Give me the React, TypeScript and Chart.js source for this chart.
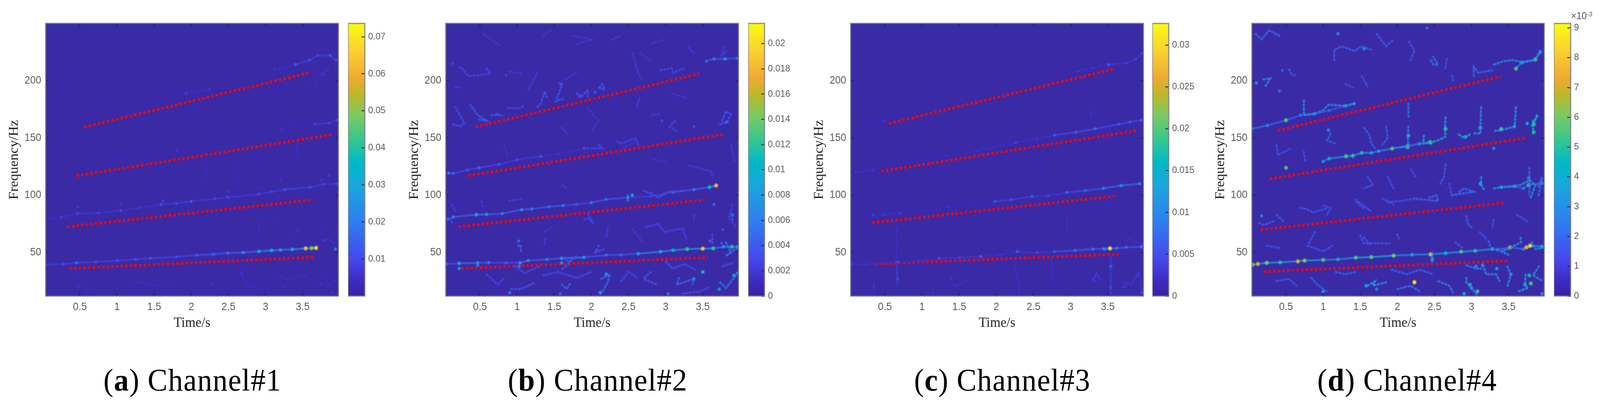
import React, { useEffect, useRef } from "react";
import { Chart, registerables } from "chart.js";

Chart.register(...registerables);

/* ---------- axis values ---------- */
const timeRange = [0.04, 3.98];
const freqRange = [12, 250];
const timeTicks = [0.5, 1, 1.5, 2, 2.5, 3, 3.5];
const freqTicks = [50, 100, 150, 200];

const barRangeA = [0, 0.0736];
const barRangeB = [0, 0.0216];
const barRangeC = [0, 0.0326];
const barRangeD = [0, 9.15];
const barTicksA = [0.01, 0.02, 0.03, 0.04, 0.05, 0.06, 0.07];
const barTicksB = [0, 0.002, 0.004, 0.006, 0.008, 0.01, 0.012, 0.014, 0.016, 0.018, 0.02];
const barTicksC = [0, 0.005, 0.01, 0.015, 0.02, 0.025, 0.03];
const barTicksD = [0, 1, 2, 3, 4, 5, 6, 7, 8, 9];

/* ---------- red dotted guide lines [t0, f0, t1, f1] ---------- */
const guidesA = [[0.56, 159.5, 3.58, 206.8], [0.455, 117, 3.9, 153], [0.33, 72.5, 3.63, 96], [0.36, 36, 3.67, 46]];
const guidesB = [[0.44, 159.5, 3.45, 206], [0.34, 117, 3.79, 153.4], [0.21, 72.5, 3.52, 96], [0.25, 36, 3.57, 45.7]];
const guidesC = [[0.556, 162.6, 3.57, 210], [0.45, 121, 3.9, 156.5], [0.33, 76, 3.63, 99.5], [0.37, 40, 3.68, 48.6]];
const guidesD = [[0.39, 156.5, 3.39, 203.6], [0.28, 114.4, 3.73, 150], [0.16, 69.8, 3.46, 93.5], [0.2, 33.3, 3.5, 42.8]];

/* ---------- bright ridges, [t, f, value] ---------- */
const ridgesA = [
  [[0.04, 39.4, 0.011], [0.28, 40, 0.012], [0.455, 41, 0.017], [0.72, 41.8, 0.012], [1.0, 42.8, 0.012], [1.25, 44, 0.012], [1.45, 45, 0.014], [1.8, 46.2, 0.012], [2.07, 47.7, 0.016], [2.3, 48.4, 0.016], [2.49, 49.5, 0.02], [2.7, 50, 0.022], [2.91, 51, 0.032], [3.08, 51.8, 0.034], [3.2, 52.2, 0.028], [3.36, 52.7, 0.034], [3.54, 53.6, 0.062], [3.62, 53.8, 0.05], [3.68, 54, 0.068]],
  [[0.04, 79, 0.007], [0.25, 81, 0.008], [0.47, 84, 0.011], [0.75, 84.5, 0.009], [1.05, 86.7, 0.011], [1.3, 89, 0.008], [1.59, 92, 0.012], [1.8, 93, 0.01], [2.0, 94.6, 0.015], [2.32, 97, 0.01], [2.5, 98, 0.01], [2.91, 101, 0.011], [3.08, 103, 0.01], [3.26, 105, 0.012], [3.6, 107, 0.012], [3.78, 109.5, 0.01], [3.96, 110, 0.01]],
  [[0.47, 124, 0.004], [0.8, 128, 0.003], [1.13, 133, 0.005], [1.5, 136, 0.003], [1.8, 139, 0.007], [2.32, 145, 0.004], [2.8, 151, 0.003]],
  [[3.22, 158, 0.006], [3.4, 161, 0.005], [3.66, 162, 0.01], [3.85, 163, 0.01], [3.96, 165.5, 0.012]],
  [[1.3, 180, 0.003], [1.93, 189, 0.008], [2.25, 192.6, 0.007], [2.5, 194, 0.004]],
  [[2.9, 203, 0.004], [3.12, 209.5, 0.007], [3.4, 214, 0.015], [3.59, 218, 0.012], [3.7, 222, 0.01], [3.87, 222, 0.016], [3.95, 218, 0.012]],
];
const ridgesB = [
  [[0.05, 40, 0.0048], [0.22, 40.5, 0.009], [0.47, 41, 0.0075], [0.62, 41.2, 0.006], [0.85, 41, 0.004], [1.04, 41, 0.0085], [1.15, 43, 0.007], [1.4, 44, 0.006], [1.6, 45, 0.0085], [1.9, 45.7, 0.0085], [2.2, 47.7, 0.005], [2.4, 48, 0.005], [2.63, 49, 0.0085], [2.93, 50.7, 0.009], [3.1, 52, 0.01], [3.29, 53, 0.012], [3.5, 53.4, 0.019], [3.64, 53.6, 0.012], [3.78, 55, 0.008], [3.89, 55, 0.012], [3.97, 55, 0.009]],
  [[0.07, 79, 0.005], [0.14, 81, 0.006], [0.45, 83, 0.009], [0.59, 83.3, 0.008], [0.8, 84, 0.006], [1.06, 87.4, 0.007], [1.2, 88, 0.006], [1.43, 90, 0.005], [1.62, 91, 0.006], [1.8, 92, 0.004], [2.0, 93.5, 0.006], [2.2, 96.4, 0.005], [2.49, 98, 0.006], [2.8, 99, 0.003], [3.1, 102.5, 0.005], [3.38, 105, 0.006], [3.59, 107, 0.011], [3.68, 108.5, 0.018]],
  [[0.08, 119.4, 0.006], [0.14, 119, 0.005], [0.33, 122, 0.004], [0.49, 124, 0.005], [0.76, 127, 0.004], [1.0, 131, 0.003], [1.32, 134, 0.004], [1.55, 136, 0.002], [1.9, 141, 0.003]],
  [[3.55, 217, 0.005], [3.65, 219, 0.006], [3.8, 219, 0.008], [3.96, 219.6, 0.005]],
];
const ridgesC = [
  [[0.04, 40, 0.006], [0.22, 39.6, 0.003], [0.67, 41.7, 0.006], [0.95, 42.5, 0.003], [1.23, 45, 0.005], [1.5, 45.5, 0.004], [1.79, 46.6, 0.007], [2.05, 48, 0.003], [2.28, 50.7, 0.007], [2.55, 49.8, 0.004], [2.78, 50.7, 0.007], [3.06, 51.8, 0.008], [3.3, 53, 0.008], [3.45, 53.2, 0.012], [3.53, 53.6, 0.031], [3.62, 53.7, 0.009], [3.75, 54.5, 0.008], [3.95, 55, 0.009]],
  [[0.11, 79, 0.002], [0.34, 83, 0.004], [0.5, 83, 0.003], [0.7, 84.5, 0.004], [1.05, 87, 0.002], [1.35, 90, 0.003], [1.7, 91.5, 0.002], [1.98, 94.6, 0.006], [2.2, 96, 0.005], [2.48, 99, 0.007], [2.7, 99.5, 0.004], [2.95, 102.5, 0.008], [3.2, 104, 0.007], [3.44, 106, 0.01], [3.68, 108.5, 0.011], [3.93, 110, 0.01]],
  [[0.11, 120, 0.003], [0.34, 122, 0.003], [0.79, 128, 0.002], [1.35, 134, 0.002], [1.73, 138.5, 0.003], [2.26, 146, 0.004], [2.55, 149, 0.003], [2.78, 152.5, 0.006], [3.07, 155, 0.007], [3.33, 158, 0.008], [3.65, 162, 0.006], [3.8, 164, 0.006], [3.95, 165.5, 0.007]],
  [[0.2, 161, 0.002], [0.48, 165, 0.003]],
  [[2.9, 203, 0.002], [3.09, 208, 0.003], [3.3, 211, 0.003], [3.51, 214, 0.007], [3.75, 215.5, 0.004], [3.88, 219, 0.004], [3.96, 224, 0.004]],
];
const ridgesD = [
  [[0.05, 39.4, 6], [0.12, 40, 7], [0.24, 41, 6], [0.42, 41.4, 5], [0.66, 42.3, 7], [0.75, 43, 6], [1.0, 43.5, 5.5], [1.2, 44, 4], [1.44, 45.5, 5.5], [1.65, 46, 5.5], [1.95, 47.3, 6], [2.2, 48, 4], [2.45, 48.4, 7.8], [2.65, 49.4, 4.5], [2.86, 50.7, 5.5], [3.05, 51.5, 5], [3.28, 53, 4.5], [3.35, 52.5, 3], [3.52, 54.5, 6.5], [3.7, 53, 3], [3.74, 54.5, 7.5], [3.79, 55.9, 8.5], [3.95, 55.2, 4.5]],
  [[3.4, 107, 4], [3.58, 107.7, 3.4], [3.7, 106, 2.5], [3.77, 109, 5.5], [3.95, 110.4, 3.2]],
  [[1.0, 129.5, 3], [1.08, 132, 4.5], [1.31, 134, 5.5], [1.4, 134.5, 5], [1.52, 137, 4.8], [1.65, 137, 4], [1.75, 138.5, 3.5], [1.93, 140.8, 5.5], [2.14, 143, 5], [2.3, 145, 3.2], [2.44, 146.4, 5]],
  [[0.04, 158, 3], [0.25, 161, 2.8], [0.5, 165.5, 5.5], [0.7, 170, 2.5], [0.88, 171, 3.2], [1.08, 174, 2], [1.3, 178, 3.6], [1.42, 180, 3]],
  [[3.6, 210.6, 5.5], [3.68, 216, 4], [3.86, 218.5, 5.5], [3.93, 225, 3.4]],
];

/* ---------- isolated bright specks, [t, f, value] ---------- */
const specksA = [
  [0.09, 238, 0.004], [0.35, 205, 0.004], [0.12, 160, 0.003], [0.85, 173, 0.004], [1.41, 181, 0.004], [1.3, 223, 0.002], [1.99, 237.6, 0.003],
  [2.84, 241, 0.003], [3.6, 241, 0.002], [2.2, 119, 0.006], [2.22, 125, 0.004], [2.63, 126, 0.004], [3.43, 139.6, 0.006], [3.43, 134, 0.004],
  [0.47, 20, 0.006], [0.26, 27, 0.004], [1.69, 23.6, 0.006], [1.27, 22.5, 0.004], [2.68, 31.5, 0.008], [2.77, 20, 0.006], [3.43, 70, 0.006],
  [3.17, 77.7, 0.005], [2.9, 74, 0.005], [3.78, 60.8, 0.008], [3.94, 53, 0.022], [3.75, 22.5, 0.006], [3.26, 20, 0.006], [2.28, 22.5, 0.006],
  [0.89, 68.7, 0.003], [2.48, 99, 0.01], [3.05, 26, 0.005], [3.53, 30, 0.005], [1.0, 16, 0.004], [1.9, 16, 0.004], [2.55, 14, 0.004], [3.9, 15, 0.006],
  [3.8, 30, 0.004], [3.4, 62, 0.005], [2.78, 216, 0.003], [3.1, 196, 0.003], [3.68, 196, 0.005], [3.78, 205, 0.006], [3.3, 205, 0.005], [2.58, 110, 0.004],
  [1.62, 95, 0.01], [0.47, 90, 0.008], [1.05, 92, 0.008], [2.5, 103, 0.007], [2.9, 107, 0.006], [3.2, 113, 0.006], [3.85, 117, 0.008], [3.75, 113, 0.007],
];
const specksB = [
  [0.13, 215, 0.003], [0.85, 205, 0.003], [1.6, 197, 0.004], [2.05, 190, 0.004], [1.85, 187, 0.004], [2.95, 165, 0.003], [3.38, 160, 0.004], [3.82, 164, 0.006], [2.55, 100, 0.009], [3.65, 92, 0.005],
  [3.9, 83, 0.006], [3.77, 70, 0.004], [1.02, 60, 0.005], [1.02, 56, 0.004], [0.22, 36, 0.008], [0.47, 39, 0.006], [1.03, 38, 0.006], [1.6, 41, 0.008], [0.9, 15, 0.006], [1.58, 14, 0.005],
  [2.2, 31, 0.008], [2.12, 15, 0.009], [3.03, 14, 0.006], [3.38, 27, 0.008], [3.5, 33, 0.011], [3.72, 18, 0.008], [3.92, 30, 0.01], [3.97, 32, 0.007], [3.6, 60, 0.005], [3.75, 58, 0.004],
];
const specksC = [
  [2.0, 237, 0.001], [1.35, 222, 0.001], [3.56, 242, 0.001], [3.27, 172, 0.003], [2.45, 150, 0.002], [2.95, 78, 0.003], [2.95, 72, 0.002], [3.54, 92, 0.002], [0.66, 68, 0.002], [0.66, 50, 0.002],
  [0.67, 27, 0.005], [0.66, 33, 0.003], [0.35, 20, 0.003], [1.4, 27, 0.003], [1.15, 14, 0.003], [2.3, 22, 0.003], [3.0, 14, 0.003], [3.32, 25, 0.003], [3.54, 38, 0.011], [3.54, 20, 0.005],
  [3.72, 20, 0.004], [3.9, 30, 0.004], [3.96, 15, 0.006], [3.97, 56, 0.006],
];
const specksD = [
  [1.2, 241, 3], [1.55, 228, 3.4], [2.4, 246, 2.4], [0.45, 209, 1.8], [0.1, 198, 3.2], [0.41, 191, 2.4], [1.07, 157, 3.4], [2.15, 152, 4.8], [2.14, 142, 5.2], [2.65, 158, 5.2],
  [3.12, 159, 4.8], [3.58, 160, 3.8], [3.84, 155, 4.8], [2.45, 146, 5.2], [3.12, 110, 4.6], [3.77, 115, 3.4], [3.3, 141, 2.8], [0.5, 124, 5.5], [2.92, 151, 4], [3.4, 157.7, 5.5],
  [3.84, 162, 5.5], [3.75, 162.6, 4], [3.06, 38, 3.2], [3.34, 36, 3.6], [3.78, 30, 4.8], [3.8, 23, 5.5], [3.08, 16, 5.2], [2.98, 22, 4.6], [2.9, 14, 4], [2.23, 24, 8.8],
  [1.58, 21, 4], [1.0, 16, 3.6], [1.72, 18, 3.2], [3.0, 19, 3.4], [3.53, 31, 3.6], [3.72, 22, 4.2], [3.15, 39, 3], [2.47, 44, 4.2], [3.95, 14, 3], [0.17, 82, 2.6],
];

/* ---------- faint filaments, each a list of [t, f] with one value ---------- */
const websA: [number, number[][]][] = [
  [0.0035, [[0.35, 205], [0.38, 211]]],
  [0.003, [[1.93, 170], [2.1, 175], [2.2, 168]]],
  [0.003, [[3.1, 196], [3.2, 186], [3.25, 178]]],
  [0.0035, [[3.55, 198], [3.68, 196], [3.74, 190]]],
  [0.005, [[3.7, 208], [3.78, 205], [3.85, 212]]],
  [0.004, [[2.62, 126], [2.63, 118], [2.62, 108]]],
  [0.004, [[3.43, 146], [3.43, 132]]],
  [0.004, [[2.2, 125], [2.2, 112]]],
  [0.005, [[3.78, 60], [3.85, 62], [3.92, 58]]],
  [0.004, [[2.9, 78], [2.92, 66]]],
  [0.004, [[2.7, 38], [2.68, 30], [2.75, 22], [2.95, 18]]],
  [0.004, [[3.1, 32], [3.3, 26], [3.5, 30], [3.7, 22]]],
  [0.004, [[0.45, 28], [0.5, 20], [0.7, 16]]],
  [0.004, [[1.2, 25], [1.5, 22], [1.7, 18]]],
  [0.004, [[3.75, 30], [3.85, 22], [3.95, 26]]],
  [0.0035, [[2.3, 18], [2.5, 15]]],
  [0.0035, [[3.75, 65], [3.78, 72], [3.7, 80]]],
];
const websB: [number, number[][]][] = [
  [0.0024, [[2.93, 209], [3.08, 211], [3.1, 207], [3.26, 211]]],
  [0.002, [[2.55, 224], [2.63, 207], [2.68, 201]]],
  [0.003, [[1.8, 189], [1.85, 185], [1.95, 192], [1.95, 186]]],
  [0.003, [[2.1, 194], [2.15, 197], [2.18, 192], [2.1, 194]]],
  [0.003, [[1.27, 177], [1.32, 180], [1.37, 191], [1.4, 185]]],
  [0.003, [[1.57, 198], [1.6, 195], [1.52, 182], [1.62, 184]]],
  [0.002, [[1.15, 192], [1.25, 204], [1.27, 207]]],
  [0.0024, [[0.87, 176], [1.05, 176], [1.1, 179]]],
  [0.003, [[0.72, 171], [0.77, 170], [0.64, 170]]],
  [0.0035, [[0.49, 166], [0.59, 165], [0.47, 170], [0.37, 179]]],
  [0.003, [[0.14, 162], [0.24, 160], [0.29, 163], [0.17, 177]]],
  [0.0024, [[0.22, 211], [0.24, 212], [0.34, 204], [0.64, 206], [0.59, 211]]],
  [0.002, [[0.17, 195], [0.24, 194]]],
  [0.0018, [[1.75, 239], [2.02, 236], [1.8, 232]]],
  [0.0018, [[2.38, 239], [2.25, 235]]],
  [0.0024, [[3.13, 165], [3.05, 160], [3.15, 156]]],
  [0.003, [[3.76, 165], [3.81, 173], [3.88, 171], [3.83, 164], [3.73, 162]]],
  [0.002, [[3.78, 230], [3.76, 222], [3.82, 226]]],
  [0.0024, [[2.1, 144], [2.15, 141], [1.9, 141]]],
  [0.0024, [[2.35, 147], [2.4, 145], [2.6, 150], [2.63, 144]]],
  [0.002, [[1.6, 109], [1.67, 106]]],
  [0.003, [[2.7, 104], [2.83, 101], [2.9, 98], [3.03, 103], [3.23, 104]]],
  [0.0055, [[2.49, 100], [2.49, 94]]],
  [0.0024, [[1.9, 79], [1.97, 80], [2.03, 75], [1.95, 84]]],
  [0.002, [[2.22, 72], [2.2, 63]]],
  [0.0024, [[2.73, 72], [2.9, 75], [2.98, 68], [3.23, 71], [3.28, 62]]],
  [0.0026, [[3.63, 66], [3.63, 57]]],
  [0.004, [[1.05, 56], [1.05, 51]]],
  [0.002, [[1.37, 62], [1.37, 57]]],
  [0.003, [[2.1, 56], [2.05, 50], [2.18, 53]]],
  [0.004, [[1.6, 22], [1.67, 18], [1.72, 24]]],
  [0.0045, [[2.13, 27], [2.25, 31], [2.22, 24], [2.15, 16]]],
  [0.004, [[3.18, 28], [3.15, 22], [3.38, 27], [3.36, 22]]],
  [0.0032, [[2.8, 33], [2.7, 27], [2.88, 22]]],
  [0.005, [[3.73, 24], [3.81, 19], [3.91, 27], [3.96, 31]]],
  [0.0032, [[0.92, 18], [1.05, 18], [1.25, 24]]],
  [0.0024, [[0.59, 31], [0.74, 22], [0.82, 27]]],
  [0.0026, [[1.35, 30], [1.55, 33], [1.8, 28], [2, 33]]],
  [0.005, [[3.81, 59], [3.88, 50], [3.81, 47], [3.96, 54]]],
  [0.003, [[3.76, 38], [3.91, 41]]],
  [0.0032, [[1.62, 45], [1.7, 42], [1.8, 47], [1.6, 35]]],
  [0.0026, [[2.4, 25], [2.5, 33], [2.62, 28]]],
  [0.003, [[3.0, 42], [3.1, 36], [3.25, 40], [3.4, 35]]],
  [0.0026, [[0.97, 38], [1.1, 32], [1.3, 38]]],
  [0.0026, [[3.22, 14], [3.45, 16], [3.6, 20]]],
  [0.0022, [[3.9, 92], [3.85, 80], [3.95, 72]]],
  [0.0016, [[0.54, 241], [0.79, 230]]],
  [0.0016, [[1.35, 239], [1.47, 245]]],
  [0.0018, [[0.89, 208], [1.07, 206]]],
  [0.0018, [[1.65, 201], [1.8, 207]]],
  [0.0016, [[2.65, 224], [2.8, 218]]],
  [0.0016, [[2.8, 232], [2.98, 236]]],
  [0.002, [[3.31, 229], [3.38, 224]]],
  [0.0018, [[3.08, 189], [3.28, 185]]],
  [0.002, [[2.65, 185], [2.6, 176]]],
  [0.0016, [[1.95, 176], [2.1, 165], [2, 156]]],
  [0.0018, [[2.8, 170], [2.93, 171]]],
  [0.002, [[1.6, 159], [1.67, 154]]],
  [0.0016, [[0.82, 145], [0.87, 135]]],
  [0.002, [[3.31, 126], [3.61, 121], [3.63, 116]]],
  [0.0016, [[2.43, 141], [2.6, 147]]],
  [0.0016, [[2.8, 132], [3, 129]]],
  [0.0018, [[3.88, 144], [3.93, 130]]],
  [0.003, [[3.88, 83], [3.91, 77]]],
  [0.002, [[0.89, 95], [1.07, 97]]],
  [0.0018, [[3.38, 83], [3.38, 77]]],
  [0.0018, [[2.55, 71], [2.68, 60]]],
  [0.0018, [[1.37, 68], [1.47, 72]]],
  [0.002, [[0.52, 95], [0.54, 89]]],
  [0.002, [[0.12, 92], [0.17, 86]]],
  [0.0024, [[0.09, 80], [0.14, 75]]],
];
const websC: [number, number[][]][] = [
  [0.0016, [[3.27, 180], [3.27, 166]]],
  [0.0012, [[2.45, 158], [2.45, 138]]],
  [0.0012, [[2.62, 135], [2.62, 112]]],
  [0.0018, [[2.95, 82], [2.95, 66]]],
  [0.0014, [[3.54, 100], [3.54, 85]]],
  [0.002, [[0.66, 72], [0.66, 44]]],
  [0.003, [[0.66, 40], [0.67, 22]]],
  [0.002, [[1.4, 24], [1.45, 20], [1.6, 26]]],
  [0.002, [[2.25, 38], [2.3, 22], [2.3, 14]]],
  [0.002, [[2.75, 44], [2.75, 26]]],
  [0.003, [[3.54, 46], [3.54, 14]]],
  [0.003, [[3.3, 26], [3.35, 32], [3.4, 26]]],
  [0.0025, [[3.7, 24], [3.82, 22], [3.92, 34], [3.96, 16]]],
  [0.002, [[0.35, 26], [0.36, 14]]],
  [0.002, [[3.75, 64], [3.85, 60], [3.95, 58]]],
];
const websD: [number, number[][]][] = [
  [1.9, [[0.09, 241], [0.17, 236], [0.27, 244], [0.42, 239]]],
  [1.6, [[1.15, 218], [1.15, 227], [1.25, 230], [1.42, 226], [1.52, 230], [1.65, 227]]],
  [1.5, [[1.72, 241], [1.85, 230], [1.95, 236]]],
  [1.9, [[2.45, 218], [2.49, 214], [2.55, 214], [2.48, 221]]],
  [1.5, [[0.54, 210], [0.57, 206], [0.64, 204]]],
  [2.4, [[0.19, 201], [0.29, 202], [0.22, 195]]],
  [2.6, [[0.74, 183], [0.74, 170], [0.87, 171], [1, 174], [1.07, 179], [1.3, 178], [1.42, 180]]],
  [2.2, [[2.15, 180], [2.15, 168]]],
  [2.4, [[2.15, 160], [2.14, 151], [2.15, 142], [2.05, 142]]],
  [3.2, [[2.65, 168], [2.64, 157], [2.65, 151], [2.55, 148], [2.45, 146], [2.35, 145], [2.36, 154]]],
  [2.8, [[3.13, 177], [3.12, 159], [3.12, 154], [3.03, 154]]],
  [3.4, [[2.83, 153], [2.9, 150], [3, 154]]],
  [3, [[3.6, 177], [3.58, 160], [3.41, 157], [3.3, 156]]],
  [4, [[3.83, 165], [3.83, 154]]],
  [3.2, [[3.88, 170], [3.81, 160], [3.89, 169]]],
  [2.6, [[3.3, 214], [3.43, 217], [3.56, 218], [3.68, 216], [3.86, 218], [3.92, 226]]],
  [1.8, [[3.03, 204], [3.03, 212], [3.09, 207], [3.28, 209]]],
  [2.8, [[3.3, 106], [3.41, 107], [3.56, 108], [3.66, 109], [3.78, 113], [3.86, 109], [3.8, 98]]],
  [3, [[3.13, 116], [3.13, 109], [3.18, 104]]],
  [1.8, [[2.83, 103], [2.9, 106], [3.03, 103], [2.73, 100]]],
  [1.7, [[2.43, 98], [2.53, 100], [2.55, 95], [2.23, 97]]],
  [1.6, [[2.93, 82], [2.95, 75], [3, 72]]],
  [1.6, [[2.65, 127], [2.63, 116], [2.58, 110]]],
  [1.6, [[1.07, 157], [1.1, 153], [1.05, 148], [1.17, 145]]],
  [1.6, [[1.55, 159], [1.62, 153], [1.65, 145], [1.7, 141]]],
  [1.6, [[1.85, 160], [1.87, 150], [1.8, 144]]],
  [1.3, [[1.52, 92], [1.65, 86], [1.42, 97]]],
  [1.3, [[1.87, 94], [2.05, 95], [2.23, 97]]],
  [1.4, [[0.69, 89], [0.77, 88], [0.87, 85], [1.07, 89]]],
  [2.8, [[2.93, 28], [2.93, 24], [3, 19], [3.08, 13]]],
  [2.6, [[3.15, 39], [3.2, 31], [3.33, 31], [3.38, 25]]],
  [2.6, [[3.48, 38], [3.53, 31], [3.48, 19]]],
  [3, [[3.73, 31], [3.72, 22], [3.76, 19], [3.63, 16]]],
  [2.8, [[1.6, 21], [1.7, 25], [1.67, 21], [1.85, 24]]],
  [2, [[2, 18], [2.18, 21], [2.3, 16]]],
  [1.6, [[0.84, 28], [0.92, 22], [1.05, 16]]],
  [1.5, [[0.37, 25], [0.54, 27], [0.64, 21]]],
  [2.2, [[2.55, 25], [2.7, 21], [2.75, 15]]],
  [2.6, [[3.91, 38], [3.83, 30], [3.96, 25]]],
  [2.2, [[2.93, 39], [3.05, 36], [3.13, 36]]],
  [1.6, [[1.17, 33], [1.3, 31], [1.45, 33]]],
  [1.6, [[1.92, 35], [2.13, 31], [2.3, 35], [2.48, 31]]],
  [2.6, [[3.66, 63], [3.67, 59], [3.52, 54], [3.4, 51], [3.5, 48]]],
  [2.6, [[3.81, 59], [3.86, 53], [3.96, 54]]],
  [1.8, [[3.23, 60], [3.26, 54]]],
  [2.6, [[2.47, 50], [2.47, 42]]],
  [1.5, [[0.13, 76], [0.2, 74], [0.36, 78]]],
  [1.3, [[1.5, 65], [1.55, 58], [1.9, 58]]],
  [1.8, [[3.78, 124], [3.78, 100]]],
  [1.8, [[3.9, 108], [3.95, 116], [3.9, 98]]],
  [1.3, [[1.52, 204], [1.6, 195]]],
  [1.3, [[2.65, 211], [2.67, 220]]],
  [1.3, [[2.18, 218], [2.23, 226], [2.15, 235]]],
  [1.3, [[2.75, 200], [2.73, 206]]],
  [1.3, [[1.3, 197], [1.4, 194]]],
  [1.3, [[0.37, 144], [0.39, 135], [0.57, 141]]],
  [1.3, [[0.74, 138], [0.76, 129]]],
  [1.3, [[1.6, 116], [1.67, 109], [1.55, 106]]],
  [1.3, [[1.87, 116], [1.95, 106]]],
  [1.3, [[2.18, 123], [2.25, 116]]],
  [1.3, [[2.7, 110], [2.73, 101]]],
  [1.4, [[0.37, 83], [0.47, 77]]],
  [1.2, [[1.05, 83], [1.1, 89], [1, 91]]],
  [1.2, [[1.45, 94], [1.55, 88]]],
  [1.2, [[1.8, 97], [1.95, 92]]],
  [1.4, [[3.3, 79], [3.28, 72]]],
  [1.3, [[3.61, 83], [3.76, 77]]],
  [1.4, [[3.11, 68], [3.2, 62]]],
  [1.4, [[2, 66], [2.02, 62]]],
  [1.3, [[0.89, 68], [0.79, 56], [1, 51], [1.12, 56]]],
  [1.3, [[0.24, 56], [0.42, 54]]],
  [1.3, [[1.55, 63], [1.65, 56]]],
  [1.4, [[2.78, 59], [2.88, 54]]],
];

/* ---------- colours ---------- */
const colorStops: [number, number[]][] = [
  [0, [58, 34, 160]], [0.06, [62, 44, 196]], [0.13, [70, 70, 236]], [0.27, [46, 126, 242]], [0.41, [24, 168, 220]],
  [0.49, [0, 186, 198]], [0.56, [44, 198, 150]], [0.66, [120, 202, 100]], [0.74, [190, 184, 40]], [0.8, [240, 170, 52]],
  [0.9, [252, 208, 48]], [1, [248, 252, 16]],
];
const plotBackground = "#3a2aa6";

function colorAt(fr: number) {
  const x = Math.min(1, Math.max(0, fr));
  for (let i = 1; i < colorStops.length; i++) {
    const [b, cb] = colorStops[i];
    const [a, ca] = colorStops[i - 1];
    if (x <= b) {
      const k = (x - a) / (b - a);
      return `rgb(${ca.map((c, j) => Math.round(c + (cb[j] - c) * k)).join(",")})`;
    }
  }
  return "rgb(248,252,16)";
}

/* ---------- page layout (reference pixels) ---------- */
const panels = [
  { letter: "a", caption: "Channel#1", plot: [123, 916], bar: [937, 982], mid: 518, range: barRangeA, ticks: barTicksA, ridges: ridgesA, specks: specksA, guides: guidesA, webs: websA },
  { letter: "b", caption: "Channel#2", plot: [1200, 1993], bar: [2014, 2058], mid: 1609, range: barRangeB, ticks: barTicksB, ridges: ridgesB, specks: specksB, guides: guidesB, webs: websB },
  { letter: "c", caption: "Channel#3", plot: [2290, 3082], bar: [3102, 3146], mid: 2698, range: barRangeC, ticks: barTicksC, ridges: ridgesC, specks: specksC, guides: guidesC, webs: websC },
  { letter: "d", caption: "Channel#4", plot: [3370, 4162], bar: [4183, 4228], mid: 3788, range: barRangeD, ticks: barTicksD, ridges: ridgesD, specks: specksD, guides: guidesD, webs: websD },
];
const pageW = 4307;
const pageH = 1037;
const plotTop = 60;
const plotBottom = 758;
const leftGutter = 120;
const bottomGutter = 100;
const sans = "'Liberation Sans', Arial, sans-serif";
const serif = "'Liberation Serif', 'Times New Roman', serif";
const tickGrey = "#5a5a5a";
const tickMark = "rgba(35,35,70,0.75)";
const softEdges = "blur(0.6px)";
const markBlur = "blur(1.7px)";

function Panel({ p }: { p: (typeof panels)[number] }) {
  const heatRef = useRef<HTMLCanvasElement>(null);
  const barRef = useRef<HTMLCanvasElement>(null);

  useEffect(() => {
    const span = p.range[1] - p.range[0];
    const fr = (v: number) => (v - p.range[0]) / span;
    const toPoint = ([x, y, v]: number[]) => ({ x, y, v });
    const radius = (v: number) => 2.8 + 2.4 * Math.min(1, fr(v) * 1.6);

    const datasets: any[] = [];
    p.webs.forEach(([v, pts]) => {
      datasets.push({
        data: pts.map(([x, y]) => ({ x, y, v })),
        showLine: true,
        borderColor: colorAt(fr(v) * 1.15),
        borderWidth: 4.6,
        borderCapStyle: "round",
        borderDash: [4, 6],
        pointRadius: 0,
        clip: 0,
        soft: true,
      });
    });
    datasets.push({
      data: p.specks.map(toPoint),
      showLine: false,
      pointRadius: (c: any) => radius(c.raw.v),
      pointBackgroundColor: (c: any) => colorAt(fr(c.raw.v)),
      pointBorderWidth: 0,
      clip: 0,
      soft: true,
    });
    p.ridges.forEach((r) => {
      datasets.push({
        data: r.map(toPoint),
        showLine: true,
        borderWidth: 3.4,
        segment: { borderColor: (c: any) => colorAt(fr(Math.min(c.p0.raw.v, c.p1.raw.v)) * 0.72) },
        pointRadius: (c: any) => radius(c.raw.v),
        pointBackgroundColor: (c: any) => colorAt(fr(c.raw.v)),
        pointBorderWidth: 0,
        clip: 0,
        soft: true,
      });
    });
    p.guides.forEach(([t0, f0, t1, f1]) => {
      datasets.push({
        data: [{ x: t0, y: f0 }, { x: t1, y: f1 }],
        showLine: true,
        borderColor: "#f00808",
        borderWidth: 7,
        borderDash: [6.5, 6],
        pointRadius: 0,
        clip: 0,
      });
    });

    const frame = {
      id: "frame",
      beforeDraw(chart: any) {
        const { ctx, chartArea: a } = chart;
        ctx.save();
        ctx.fillStyle = plotBackground;
        ctx.fillRect(a.left, a.top, a.right - a.left, a.bottom - a.top);
        ctx.restore();
      },
      beforeDatasetDraw(chart: any, args: any) {
        chart.ctx.filter = chart.data.datasets[args.index].soft ? markBlur : "none";
      },
      afterDatasetDraw(chart: any) {
        chart.ctx.filter = "none";
      },
      afterDraw(chart: any) {
        const { ctx, chartArea: a, scales } = chart;
        ctx.save();
        ctx.strokeStyle = tickMark;
        ctx.lineWidth = 3;
        timeTicks.forEach((t) => {
          const x = scales.x.getPixelForValue(t);
          ctx.beginPath();
          ctx.moveTo(x, a.top);
          ctx.lineTo(x, a.top + 8);
          ctx.stroke();
        });
        freqTicks.forEach((f) => {
          const y = scales.y.getPixelForValue(f);
          ctx.beginPath();
          ctx.moveTo(a.right, y);
          ctx.lineTo(a.right - 8, y);
          ctx.stroke();
        });
        ctx.strokeStyle = "rgba(110,110,125,0.85)";
        ctx.lineWidth = 3;
        ctx.strokeRect(a.left, a.top, a.right - a.left, a.bottom - a.top);
        ctx.restore();
      },
    };

    const heat = new Chart(heatRef.current!, {
      type: "scatter",
      data: { datasets },
      plugins: [frame],
      options: {
        animation: false,
        responsive: false,
        devicePixelRatio: 1,
        layout: { padding: { top: plotTop, left: 0, right: 0, bottom: 0 } },
        plugins: { legend: { display: false }, tooltip: { enabled: false } },
        scales: {
          x: {
            type: "linear",
            min: timeRange[0],
            max: timeRange[1],
            afterFit: (s: any) => { s.height = bottomGutter; },
            afterBuildTicks: (s: any) => { s.ticks = timeTicks.map((value) => ({ value })); },
            border: { display: false },
            grid: { drawOnChartArea: false, tickLength: -8, tickWidth: 3, tickColor: tickMark, z: 1 },
            ticks: { color: tickGrey, font: { family: sans, size: 27 }, padding: 20, maxRotation: 0, autoSkip: false, callback: (v: any) => String(v) },
            title: { display: true, text: "Time/s", color: "#222", font: { family: serif, size: 36 }, padding: { top: 0, bottom: 9 } },
          },
          y: {
            type: "linear",
            min: freqRange[0],
            max: freqRange[1],
            afterFit: (s: any) => { s.width = leftGutter; },
            afterBuildTicks: (s: any) => { s.ticks = freqTicks.map((value) => ({ value })); },
            border: { display: false },
            grid: { drawOnChartArea: false, tickLength: -8, tickWidth: 3, tickColor: tickMark, z: 1 },
            ticks: { color: tickGrey, font: { family: sans, size: 27 }, padding: 20, autoSkip: false, callback: (v: any) => String(v) },
            title: { display: true, text: "Frequency/Hz", color: "#222", font: { family: serif, size: 36 }, padding: { top: 14, bottom: 0 } },
          },
        },
      } as any,
    });

    const barFrame = {
      id: "barFrame",
      afterDraw(chart: any) {
        const { ctx, chartArea: a } = chart;
        ctx.save();
        ctx.strokeStyle = "rgba(120,120,130,0.85)";
        ctx.lineWidth = 3;
        ctx.strokeRect(a.left, a.top, a.right - a.left, a.bottom - a.top);
        ctx.restore();
      },
    };

    const bar = new Chart(barRef.current!, {
      type: "bar",
      data: {
        labels: [""],
        datasets: [
          {
            data: [[p.range[0], p.range[1]]],
            barPercentage: 1,
            categoryPercentage: 1,
            borderWidth: 0,
            backgroundColor: (c: any) => {
              const a = c.chart.chartArea;
              if (!a) return colorAt(0);
              const g = c.chart.ctx.createLinearGradient(0, a.bottom, 0, a.top);
              colorStops.forEach(([s]) => g.addColorStop(s, colorAt(s)));
              return g;
            },
          },
        ],
      },
      plugins: [barFrame],
      options: {
        animation: false,
        responsive: false,
        devicePixelRatio: 1,
        layout: { padding: { top: plotTop, bottom: 800 - plotBottom, left: 0, right: 0 } },
        plugins: { legend: { display: false }, tooltip: { enabled: false } },
        scales: {
          x: { display: false },
          y: {
            position: "right",
            min: p.range[0],
            max: p.range[1],
            afterFit: (s: any) => { s.width = 80; },
            afterBuildTicks: (s: any) => { s.ticks = p.ticks.map((value) => ({ value })); },
            border: { display: false },
            grid: { drawOnChartArea: false, tickLength: -9, tickWidth: 3, tickColor: tickMark, z: 1 },
            ticks: { color: tickGrey, font: { family: sans, size: 24 }, padding: 18, autoSkip: false, callback: (v: any) => String(v) },
          },
        },
      } as any,
    });

    return () => {
      heat.destroy();
      bar.destroy();
    };
  }, [p]);

  const plotW = p.plot[1] - p.plot[0];
  const barW = p.bar[1] - p.bar[0];
  return (
    <>
      <canvas
        ref={heatRef}
        width={leftGutter + plotW}
        height={plotBottom + bottomGutter}
        style={{ position: "absolute", left: p.plot[0] - leftGutter, top: 0, width: leftGutter + plotW, height: plotBottom + bottomGutter, filter: softEdges }}
      />
      <canvas
        ref={barRef}
        width={barW + 80}
        height={800}
        style={{ position: "absolute", left: p.bar[0], top: 0, width: barW + 80, height: 800, filter: softEdges }}
      />
      <div
        style={{
          position: "absolute",
          left: p.mid,
          top: 933,
          transform: "translateX(-50%)",
          fontFamily: serif,
          fontSize: 80,
          lineHeight: "80px",
          letterSpacing: 1.5,
          whiteSpace: "nowrap",
          color: "#000",
        }}
      >
        (<b>{p.letter}</b>) {p.caption}
      </div>
    </>
  );
}

export default function App() {
  const sx = window.innerWidth / pageW;
  const sy = window.innerHeight / pageH;
  return (
    <div style={{ position: "fixed", inset: 0, overflow: "hidden", background: "#fff" }}>
      <div style={{ position: "absolute", left: 0, top: 0, width: pageW, height: pageH, transformOrigin: "0 0", transform: `scale(${sx}, ${sy})` }}>
        {panels.map((p) => (
          <Panel key={p.letter} p={p} />
        ))}
        <div style={{ position: "absolute", left: 4229, top: 22, fontFamily: sans, fontSize: 25, lineHeight: "30px", color: tickGrey, whiteSpace: "nowrap", filter: softEdges }}>
          ×10<span style={{ fontSize: 17, verticalAlign: "7px" }}>-3</span>
        </div>
      </div>
    </div>
  );
}
